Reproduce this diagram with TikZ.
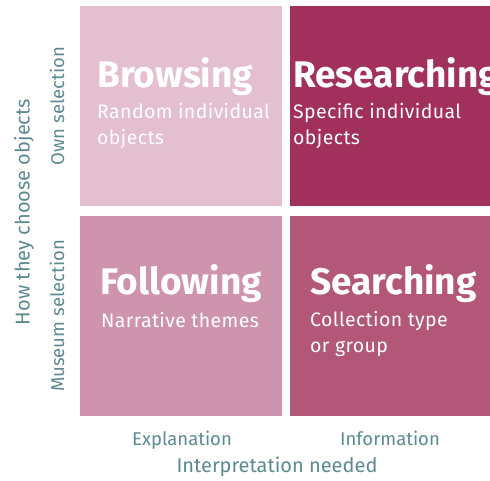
\documentclass[tikz,border=0pt]{standalone}
\usepackage{fontspec}
\setmainfont{Fira Sans}
\definecolor{browse}{HTML}{E3BFD0}
\definecolor{research}{HTML}{A2305C}
\definecolor{follow}{HTML}{CF94AD}
\definecolor{search}{HTML}{B35779}
\definecolor{axistext}{HTML}{5B8A91}
\tikzset{
    quad/.style = {anchor = north west, minimum width = 202pt, minimum height = 200pt, inner sep = 0},
    title/.style = {anchor = base west, inner sep = 0, text = white, font = \fontsize{37}{37}\selectfont\bfseries},
    sub/.style = {anchor = base west, inner sep = 0, text = white, align = left, font = \fontsize{19.5}{26}\selectfont\addfontfeature{LetterSpace=2}},
    axis/.style = {inner sep = 0, text = axistext, font = \fontsize{18.5}{18.5}\selectfont},
    axisname/.style = {inner sep = 0, text = axistext, font = \fontsize{20}{20}\selectfont}
}
\begin{document}
\begin{tikzpicture}[x = 1pt, y = 1pt]
        \useasboundingbox (0, 0) rectangle (490, 481);
        \node [quad, fill = browse] (browsing) at (80, 475) {};
        \node [quad, fill = research, minimum width = 200pt] (researching) at (290, 475) {};
        \node [quad, fill = follow] (following) at (80, 265) {};
        \node [quad, fill = search, minimum width = 200pt] (searching) at (290, 265) {};
        % titles, with the last line of each sub text at its baseline
        \node [title] (browsingT) at (97, 393) {Browsing};
        \node [sub] (browsingS) at (97, 336) {Random individual\\objects};
        \node [title] (researchingT) at (293, 393) {Researching};
        \node [sub] (researchingS) at (293, 336) {Specific individual\\objects};
        \node [title] (followingT) at (100, 186) {Following};
        \node [sub] (followingS) at (101, 153) {Narrative themes};
        \node [title] (searchingT) at (310, 186) {Searching};
        \node [sub] (searchingS) at (310, 128) {Collection type\\or group};
        % axes
        \node [axis, anchor = base] (explanation) at (182, 35) {Explanation};
        \node [axis, anchor = base] (information) at (390, 35) {Information};
        \node [axisname, anchor = base] (interpretation) at (277, 8) {Interpretation needed};
        \node [axis, rotate = 90] (own) at (57, 375) {Own selection};
        \node [axis, rotate = 90] (museum) at (57, 165) {Museum selection};
        \node [axisname, rotate = 90] (how) at (24, 269) {How they choose objects};
    \end{tikzpicture}
\end{document}
